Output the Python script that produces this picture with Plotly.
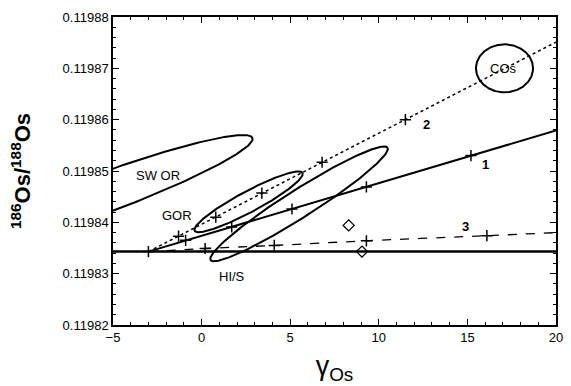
import numpy as np
import plotly.graph_objects as go

# ---------------- data ----------------
base_y = 0.1198343                     # horizontal reference line

line1_x = [-3, 20]
line1_y = [0.1198343, 0.1198579]
line1_mx = [-0.9, 1.7, 5.1, 9.3, 15.2]
line1_my = [0.1198365, 0.1198391, 0.1198426, 0.1198469, 0.1198530]

line2_x = [-3, 20]
line2_y = [0.1198343, 0.1198751]
line2_mx = [-1.3, 0.8, 3.4, 6.8, 11.5]
line2_my = [0.1198373, 0.1198410, 0.1198457, 0.1198517, 0.1198600]

line3_x = [-3, 0.2, 4.1, 9.3, 16.1, 20]
line3_y = [0.1198343, 0.1198349, 0.1198355, 0.1198364, 0.1198374, 0.1198380]
line3_mx = [0.2, 4.1, 9.3, 16.1]
line3_my = [0.1198349, 0.1198355, 0.1198364, 0.1198374]

start_x = [-3]
start_y = [0.1198343]

diamond_x = [8.3, 9.05]
diamond_y = [0.1198394, 0.1198343]

# ellipses: name, centre x, centre y, semi-axes (screen px), tilt (deg)
ell_names = ["SW OR", "GOR", "HI/S", "COs"]
ell_cx = [-6.0, 2.65, 5.5, 17.094]
ell_cy = [0.1198451, 0.1198440, 0.1198436, 0.1198700]
ell_a = [170, 62, 106, 29]
ell_b = [20, 10.5, 14, 24]
ell_ang = [20, 27.8, 32, 0]

labels = ["SW OR", "GOR", "HI/S", "COs"]
label_x = [-2.44, -1.39, 1.72, 17.06]
label_y = [0.1198492, 0.1198414, 0.1198295, 0.1198699]

num_labels = ["1", "2", "3"]
num_x = [16.0, 12.7, 14.9]
num_y = [0.1198512, 0.1198590, 0.1198392]

x_range = [-5, 20]
y_range = [0.11982, 0.11988]

# ---------------- layout constants ----------------
W, H = 571, 386
ML, MR, MT, MB = 113, 8, 17, 61
pw = W - ML - MR
ph = H - MT - MB
kx = pw / (x_range[1] - x_range[0])
ky = ph / (y_range[1] - y_range[0])

FONT = "Liberation Sans, Arial, Helvetica, sans-serif"

fig = go.Figure()

# horizontal line
fig.add_trace(go.Scatter(x=x_range, y=[base_y, base_y], mode="lines",
                         line=dict(color="black", width=2.5), hoverinfo="skip"))

# ellipses
t = np.linspace(0, 2 * np.pi, 300)
for cx, cy, a, b, ang in zip(ell_cx, ell_cy, ell_a, ell_b, ell_ang):
    th = np.deg2rad(ang)
    dxp = a * np.cos(t) * np.cos(th) - b * np.sin(t) * np.sin(th)
    dyp = a * np.cos(t) * np.sin(th) + b * np.sin(t) * np.cos(th)
    fig.add_trace(go.Scatter(x=cx + dxp / kx, y=cy + dyp / ky, mode="lines",
                             line=dict(color="black", width=2), hoverinfo="skip"))

# model lines
fig.add_trace(go.Scatter(x=line1_x, y=line1_y, mode="lines",
                         line=dict(color="black", width=2)))
fig.add_trace(go.Scatter(x=line2_x, y=line2_y, mode="lines",
                         line=dict(color="black", width=1.5, dash="dot")))
fig.add_trace(go.Scatter(x=line3_x, y=line3_y, mode="lines",
                         line=dict(color="black", width=1.3, dash="dash", shape="spline")))

cross = dict(symbol="cross-thin-open", size=8, color="black", line=dict(width=1.5, color="black"))
for mx, my in [(line1_mx, line1_my), (line2_mx, line2_my), (line3_mx, line3_my), (start_x, start_y)]:
    fig.add_trace(go.Scatter(x=mx, y=my, mode="markers", marker=cross))

fig.add_trace(go.Scatter(x=diamond_x, y=diamond_y, mode="markers",
                         marker=dict(symbol="diamond-open", size=8.5, color="black",
                                     line=dict(width=1.3, color="black"))))

# text labels as annotations
for txt, lx, ly in zip(labels, label_x, label_y):
    fig.add_annotation(x=lx, y=ly, text=txt, showarrow=False,
                       font=dict(family=FONT, size=13, color="black"))
for txt, lx, ly in zip(num_labels, num_x, num_y):
    fig.add_annotation(x=lx, y=ly, text="<b>%s</b>" % txt, showarrow=False,
                       font=dict(family=FONT, size=13, color="black"))

axis_common = dict(showline=True, linecolor="black", linewidth=1.5, mirror="allticks",
                   ticks="inside", ticklen=6, tickwidth=1.2, tickcolor="black",
                   showgrid=False, zeroline=False,
                   tickfont=dict(family=FONT, size=13, color="black"))

fig.update_layout(
    width=W, height=H, margin=dict(l=ML, r=MR, t=MT, b=MB),
    paper_bgcolor="white", plot_bgcolor="white", showlegend=False,
    xaxis=dict(range=x_range, dtick=5, tick0=0,
               minor=dict(dtick=1, ticks="inside", ticklen=3, tickcolor="black"),
               title=dict(text="γ<sub>Os</sub>", standoff=12,
                          font=dict(family=FONT, size=27, color="black")),
               **axis_common),
    yaxis=dict(range=y_range, dtick=0.00001, tick0=0.11982, tickformat=".5f",
               minor=dict(dtick=0.000002, ticks="inside", ticklen=3, tickcolor="black"),
               title=dict(text="<b><sup>186</sup>Os/<sup>188</sup>Os</b>", standoff=26,
                          font=dict(family=FONT, size=22, color="black")),
               **axis_common),
)

fig.write_html("out.html")
